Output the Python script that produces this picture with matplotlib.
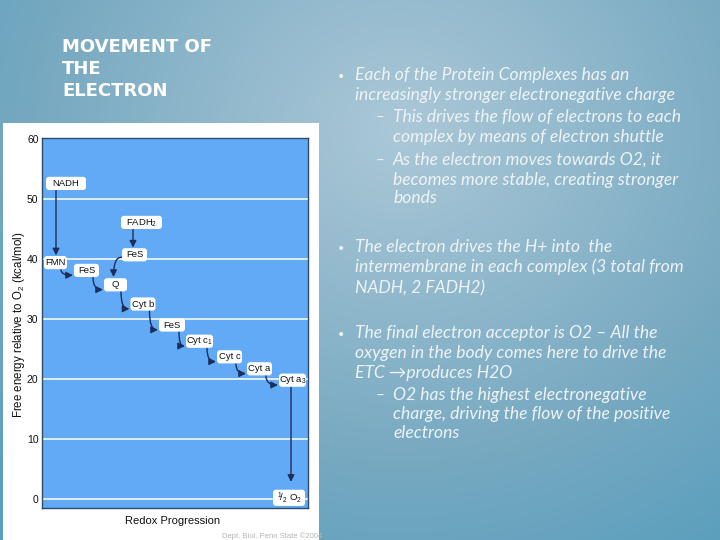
import numpy as np
import matplotlib
matplotlib.use('Agg')
import matplotlib.pyplot as plt
from matplotlib.patches import FancyBboxPatch, Rectangle
from matplotlib.colors import to_rgb

W, H = 720, 540
plt.rcParams['mathtext.fontset'] = 'custom'
plt.rcParams['mathtext.rm'] = 'Liberation Sans'
plt.rcParams['mathtext.it'] = 'Liberation Sans:italic'
plt.rcParams['mathtext.bf'] = 'Liberation Sans:bold'

# ---------------- data ----------------
carrier_labels = ['NADH', 'FMN', 'FeS', 'Q', 'Cyt b', 'FeS', 'Cyt c$_1$', 'Cyt c',
                  'Cyt a', 'Cyt a$_3$', '$^1\\!/_2$ O$_2$', 'FADH$_2$', 'FeS']
redox_position = [24, 13.5, 44.5, 73.5, 101, 130, 157.5, 187.5, 217.5, 250.5, 247, 99.5, 92.5]
free_energy = [52.6, 39.4, 38.1, 35.7, 32.5, 29.0, 26.3, 23.7, 21.7, 19.8, 0.2, 46.1, 40.7]
yticks = [0, 10, 20, 30, 40, 50, 60]
# electron transfer steps: (from, to)
straight_steps = [(0, 1), (11, 12), (9, 10)]
chain_steps = [(1, 2), (2, 3), (3, 4), (4, 5), (5, 6), (6, 7), (7, 8), (8, 9)]
side_steps = [(12, 3)]

title_lines = ['MOVEMENT OF', 'THE', 'ELECTRON']
bullet_lines = [
    (0, True, 'Each of the Protein Complexes has an'),
    (0, False, 'increasingly stronger electronegative charge'),
    (1, True, 'This drives the flow of electrons to each'),
    (1, False, 'complex by means of electron shuttle'),
    (1, True, 'As the electron moves towards O2, it'),
    (1, False, 'becomes more stable, creating stronger'),
    (1, False, 'bonds'),
    (0, True, 'The electron drives the H+ into  the'),
    (0, False, 'intermembrane in each complex (3 total from'),
    (0, False, 'NADH, 2 FADH2)'),
    (0, True, 'The final electron acceptor is O2 \u2013 All the'),
    (0, False, 'oxygen in the body comes here to drive the'),
    (0, False, 'ETC \u2192produces H2O'),
    (1, True, 'O2 has the highest electronegative'),
    (1, False, 'charge, driving the flow of the positive'),
    (1, False, 'electrons'),
]
# ---------------- styles ----------------
box_widths = [40, 23, 25, 23, 25, 26, 27, 25, 25, 27, 32, 41, 25]
box_heights = [2.2] * 10 + [2.7] + [2.2] * 2
straight_x = [14, 91, 249]
bullet_y = [75, 95, 117, 137, 160, 180, 198, 247, 267, 288, 333, 353, 373, 395, 414, 433]

fig = plt.figure(figsize=(7.2, 5.4), dpi=100)

# background gradient
bg = fig.add_axes([0, 0, 1, 1])
yy, xx = np.mgrid[0:H, 0:W]
r = np.hypot(xx - 400, (yy - 130) * 1.1)
t = np.clip(r / 560.0, 0, 1)
stops = [0.0, 0.65, 1.0]
cols = np.array([to_rgb('#abc8d7'), to_rgb('#77a9c1'), to_rgb('#5a9fbd')])
img = np.zeros((H, W, 3))
for c in range(3):
    img[..., c] = np.interp(t, stops, cols[:, c])
bg.imshow(img, extent=[0, W, H, 0], aspect='auto', zorder=0)
bg.set_xlim(0, W)
bg.set_ylim(H, 0)
bg.axis('off')

# white panel behind the chart
panel = Rectangle((3, 123), 316, 417, facecolor='white', edgecolor='none', zorder=1)
bg.add_patch(panel)
credit = bg.text(222, 538, 'Dept. Biol. Penn State \u00a92004', fontsize=5.5, color='#b5b5b5',
                 family='Liberation Sans', va='baseline', ha='left', zorder=2)
credit.set_clip_path(panel)

# title
for i, line in enumerate(title_lines):
    bg.text(62, 52 + 22 * i, line, fontsize=13, fontweight='bold', color='white',
            family='DejaVu Sans', va='baseline', ha='left', zorder=3)

# bullet text
for (lvl, has_b, txt), yc in zip(bullet_lines, bullet_y):
    tx = 355 if lvl == 0 else 393
    if has_b:
        bx = 338 if lvl == 0 else 376
        bg.text(bx, yc + 5, '\u2022' if lvl == 0 else '\u2013', fontsize=11 if lvl == 1 else 8,
                color='#eef3f6', family=['Lato', 'DejaVu Sans'], va='baseline', ha='left', zorder=3)
    bg.text(tx, yc + 5, txt, fontsize=12.6, style='italic', color='#eef3f6',
            family=['Lato', 'DejaVu Sans'], va='baseline', ha='left', zorder=3)

# ---------------- chart ----------------
ax = fig.add_axes([42 / W, 1 - 508 / H, 266 / W, 370 / H])
ax.set_facecolor('#62aaf5')
ax.set_xlim(0, 266)
ax.set_ylim(-1.5, 60.17)
ax.set_xticks([])
ax.set_yticks(yticks)
ax.set_yticklabels([str(v) for v in yticks], fontsize=7.5, color='#111111', family='Liberation Sans')
ax.tick_params(axis='y', length=0, pad=2.5)
for sp in ax.spines.values():
    sp.set_color('#2c4a6c')
    sp.set_linewidth(1.0)
for v in yticks[:-1]:
    ax.axhline(v, color='#e8f3ff', lw=1.3, zorder=1)

ax.text(-0.088, 0.495, 'Free energy relative to O$_2$ (kcal/mol)', transform=ax.transAxes,
        rotation=90, ha='center', va='center', fontsize=8.3, family='Liberation Sans', color='#111111')
ax.text(0.489, -0.034, 'Redox Progression', transform=ax.transAxes, ha='center', va='center',
        fontsize=8, family='Liberation Sans', color='#111111')

px_per_unit = 370 / 61.67
for lab, x, e, w, h in zip(carrier_labels, redox_position, free_energy, box_widths, box_heights):
    box = FancyBboxPatch((x - w / 2, e - h / 2), w, h,
                         boxstyle='round,pad=0,rounding_size=3',
                         mutation_aspect=1 / px_per_unit,
                         facecolor='white', edgecolor='none', zorder=4)
    ax.add_patch(box)
    ax.text(x, e, lab, ha='center', va='center', fontsize=6.8, family='Liberation Sans',
            color='#111111', zorder=5)

arrow_kw = dict(arrowstyle='-|>,head_length=0.4,head_width=0.2', color='#1c2e5c', lw=1.0,
                shrinkA=0, shrinkB=0)

def bottom(i):
    return free_energy[i] - box_heights[i] / 2

def top(i):
    return free_energy[i] + box_heights[i] / 2

for (a, b), sx in zip(straight_steps, straight_x):
    gap = 1.3 if b == 10 else 0.1
    ax.annotate('', xy=(sx, top(b) + gap), xytext=(sx, bottom(a) - 0.1),
                arrowprops=arrow_kw, zorder=6)

for a, b in chain_steps:
    sx = redox_position[a] + box_widths[a] / 2 - 6
    sy = bottom(a) - 0.1
    ex = redox_position[b] - box_widths[b] / 2 - 1
    ey = bottom(b) + 0.3
    ax.annotate('', xy=(ex, ey), xytext=(sx, sy),
                arrowprops=dict(connectionstyle='angle3,angleA=-90,angleB=0', **arrow_kw), zorder=6)

for a, b in side_steps:
    sx = redox_position[a] - box_widths[a] / 2 - 0.5
    sy = free_energy[a] - 0.4
    ex = redox_position[b] - 2
    ey = top(b) + 0.2
    ax.annotate('', xy=(ex, ey), xytext=(sx, sy),
                arrowprops=dict(connectionstyle='angle3,angleA=180,angleB=90', **arrow_kw), zorder=6)

fig.savefig('out.png', dpi=100)
